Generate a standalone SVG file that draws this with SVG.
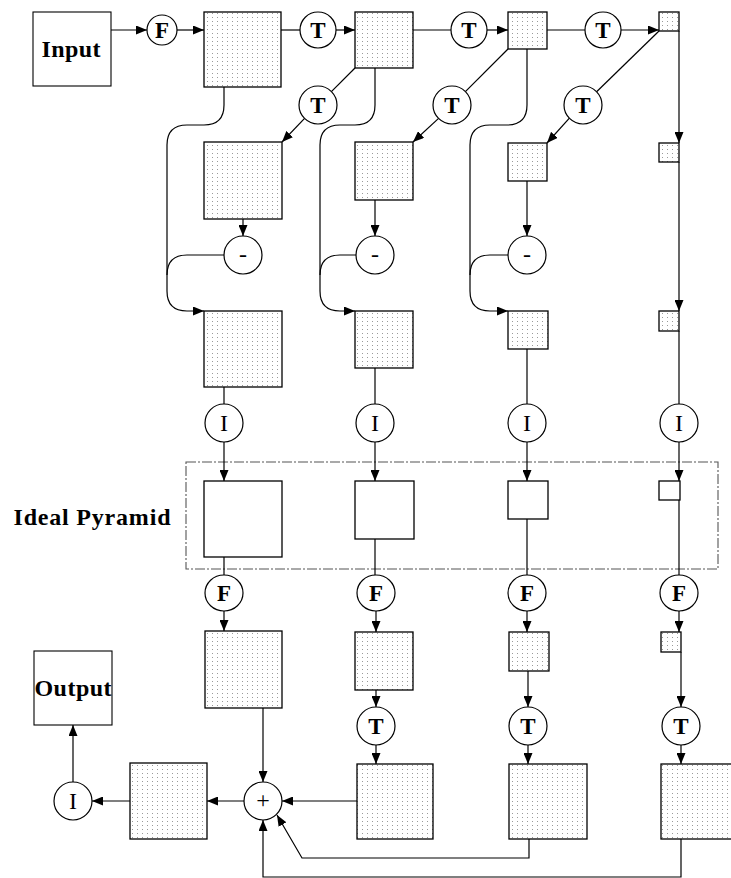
<svg xmlns="http://www.w3.org/2000/svg" width="731" height="878" viewBox="0 0 731 878">
<defs>
<pattern id="dots" width="5" height="4" patternUnits="userSpaceOnUse">
<rect width="5" height="4" fill="#fff"/>
<rect x="2" y="1" width="1" height="1" fill="#9a9a9a"/>
</pattern>
<marker id="arr" markerUnits="userSpaceOnUse" markerWidth="11" markerHeight="9" refX="11" refY="4.5" orient="auto">
<path d="M0,0 L11,4.5 L0,9 z" fill="#000"/>
</marker>
</defs>
<style>
.box{fill:url(#dots);stroke:#000;stroke-width:1.3}
.wbox{fill:#fff;stroke:#000;stroke-width:1.3}
.tbox{fill:#fff;stroke:#000;stroke-width:1.1}
.op{fill:#fff;stroke:#000;stroke-width:1.2}
.lt{font-family:"Liberation Serif",serif;font-size:23px;font-weight:bold;text-anchor:middle;dominant-baseline:central}
.li{font-family:"Liberation Serif",serif;font-size:24px;text-anchor:middle;dominant-baseline:central}
.big{font-family:"Liberation Serif",serif;font-size:24px;font-weight:bold;text-anchor:middle;dominant-baseline:central}
.c path{fill:none;stroke:#000;stroke-width:1.2}
.a{marker-end:url(#arr)}
.frame{fill:none;stroke:#555;stroke-width:1.1;stroke-dasharray:10 2 2 2}
</style>

<g id="ideal-frame">
<rect class="frame" x="186" y="462" width="532" height="107"/>
<text class="big" x="92" y="517" textLength="157" font-size="22">Ideal Pyramid</text>
</g>

<g class="c" id="connectors">
<path class="a" d="M111,30 H147"/>
<path class="a" d="M177,30 H204"/>
<path d="M281,30 H300"/>
<path class="a" d="M336,30 H355"/>
<path d="M413,30 H451"/>
<path class="a" d="M487,30 H508"/>
<path d="M547,30 H585"/>
<path class="a" d="M621,30 H659"/>
<path d="M355,68 L331.4,91.6"/>
<path class="a" d="M304.6,118.4 L282,142"/>
<path d="M508,49 L465.4,91.6"/>
<path class="a" d="M438.6,118.4 L413,142"/>
<path d="M659,31 L596.6,91.8"/>
<path class="a" d="M569.4,118.2 L547,143"/>
<path class="a" d="M679,31 V143"/>
<path class="a" d="M679,162 V311"/>
<path d="M679,331 V404"/>
<path class="a" d="M679,442 V481"/>
<path d="M679,500 V576"/>
<path class="a" d="M679,611 V632"/>
<path class="a" d="M681,652 V707"/>
<path class="a" d="M681,745 V764"/>
<path class="a" d="M681,839 V877 H263 V820"/>
<path class="a" d="M224,87 V105 Q224,125 204,125 H187 Q167,125 167,145 V291 Q167,311 187,311 H204"/>
<path d="M224,255 H187 Q167,255 167,275"/>
<path class="a" d="M243,219 V236"/>
<path d="M224,387 V404"/>
<path class="a" d="M224,442 V481"/>
<path d="M224,557 V575"/>
<path class="a" d="M224,611 V631"/>
<path class="a" d="M263,708 V782"/>
<path class="a" d="M375,68 V105 Q375,125 355,125 H340 Q320,125 320,145 V291 Q320,311 340,311 H355"/>
<path d="M356,255 H340 Q320,255 320,275"/>
<path class="a" d="M375,200 V236"/>
<path d="M375,368 V404"/>
<path class="a" d="M375,442 V481"/>
<path d="M375,539 V575"/>
<path class="a" d="M376,611 V632"/>
<path class="a" d="M376,690 V707"/>
<path class="a" d="M376,745 V764"/>
<path class="a" d="M357,801 H282"/>
<path class="a" d="M527,49 V105 Q527,125 507,125 H490 Q470,125 470,145 V291 Q470,311 490,311 H508"/>
<path d="M508,255 H490 Q470,255 470,275"/>
<path class="a" d="M527,181 V236"/>
<path d="M527,349 V404"/>
<path class="a" d="M527,442 V481"/>
<path d="M527,519 V575"/>
<path class="a" d="M527,611 V632"/>
<path class="a" d="M528,671 V707"/>
<path class="a" d="M528,745 V764"/>
<path class="a" d="M529,839 V858 H302 L277,815"/>
<path class="a" d="M244,801 H207"/>
<path class="a" d="M130,801 H92"/>
<path class="a" d="M73,782 V725"/>
</g>

<g id="input"><rect class="tbox" x="33" y="12" width="78" height="74"/><text class="big" x="71" y="49" textLength="59">Input</text></g>
<g id="f-top"><circle class="op" cx="162" cy="30" r="15"/><text class="lt" x="162" y="30" font-size="21">F</text></g>
<g id="top-l0"><rect class="box" x="204" y="12" width="77" height="75"/></g>
<g id="t-top1"><circle class="op" cx="318" cy="30" r="18"/><text class="lt" x="318" y="30">T</text></g>
<g id="top-l1"><rect class="box" x="355" y="12" width="58" height="56"/></g>
<g id="t-top2"><circle class="op" cx="469" cy="30" r="18"/><text class="lt" x="469" y="30">T</text></g>
<g id="top-l2"><rect class="box" x="508" y="12" width="39" height="37"/></g>
<g id="t-top3"><circle class="op" cx="603" cy="30" r="18"/><text class="lt" x="603" y="30">T</text></g>
<g id="top-l3"><rect class="box" x="659" y="12" width="20" height="19"/></g>

<g id="t-diag1"><circle class="op" cx="318" cy="105" r="19"/><text class="lt" x="318" y="105">T</text></g>
<g id="t-diag2"><circle class="op" cx="452" cy="105" r="19"/><text class="lt" x="452" y="105">T</text></g>
<g id="t-diag3"><circle class="op" cx="583" cy="105" r="19"/><text class="lt" x="583" y="105">T</text></g>

<g id="exp-l0"><rect class="box" x="204" y="142" width="78" height="77"/></g>
<g id="exp-l1"><rect class="box" x="355" y="142" width="58" height="58"/></g>
<g id="exp-l2"><rect class="box" x="508" y="143" width="39" height="38"/></g>
<g id="exp-l3"><rect class="box" x="659" y="143" width="20" height="19"/></g>

<g id="minus1"><circle class="op" cx="243" cy="255" r="19"/><text class="li" x="243" y="254" font-size="20">-</text></g>
<g id="minus2"><circle class="op" cx="375" cy="255" r="19"/><text class="li" x="375" y="254" font-size="20">-</text></g>
<g id="minus3"><circle class="op" cx="527" cy="255" r="19"/><text class="li" x="527" y="254" font-size="20">-</text></g>

<g id="diff-l0"><rect class="box" x="204" y="311" width="78" height="76"/></g>
<g id="diff-l1"><rect class="box" x="355" y="311" width="58" height="57"/></g>
<g id="diff-l2"><rect class="box" x="508" y="311" width="40" height="38"/></g>
<g id="diff-l3"><rect class="box" x="659" y="311" width="20" height="20"/></g>

<g id="i1"><circle class="op" cx="224" cy="423" r="19"/><text class="li" x="224" y="423">I</text></g>
<g id="i2"><circle class="op" cx="375" cy="423" r="19"/><text class="li" x="375" y="423">I</text></g>
<g id="i3"><circle class="op" cx="527" cy="423" r="19"/><text class="li" x="527" y="423">I</text></g>
<g id="i4"><circle class="op" cx="679" cy="423" r="19"/><text class="li" x="679" y="423">I</text></g>

<g id="ideal-l0"><rect class="wbox" x="204" y="481" width="78" height="76"/></g>
<g id="ideal-l1"><rect class="wbox" x="355" y="481" width="59" height="58"/></g>
<g id="ideal-l2"><rect class="wbox" x="508" y="481" width="40" height="38"/></g>
<g id="ideal-l3"><rect class="wbox" x="659" y="481" width="21" height="19"/></g>

<g id="f1"><ellipse class="op" cx="224" cy="593" rx="19" ry="18"/><text class="lt" x="224" y="593">F</text></g>
<g id="f2"><ellipse class="op" cx="376" cy="593" rx="19" ry="18"/><text class="lt" x="376" y="593">F</text></g>
<g id="f3"><ellipse class="op" cx="527" cy="593" rx="19" ry="18"/><text class="lt" x="527" y="593">F</text></g>
<g id="f4"><ellipse class="op" cx="679" cy="593" rx="19" ry="18"/><text class="lt" x="679" y="593">F</text></g>

<g id="rec-l0"><rect class="box" x="205" y="631" width="77" height="77"/></g>
<g id="rec-l1"><rect class="box" x="355" y="632" width="58" height="58"/></g>
<g id="rec-l2"><rect class="box" x="509" y="632" width="40" height="39"/></g>
<g id="rec-l3"><rect class="box" x="661" y="632" width="20" height="20"/></g>

<g id="t-bot2"><circle class="op" cx="376" cy="726" r="19"/><text class="lt" x="376" y="726">T</text></g>
<g id="t-bot3"><circle class="op" cx="528" cy="726" r="19"/><text class="lt" x="528" y="726">T</text></g>
<g id="t-bot4"><circle class="op" cx="681" cy="726" r="19"/><text class="lt" x="681" y="726">T</text></g>

<g id="up-l1"><rect class="box" x="357" y="764" width="76" height="75"/></g>
<g id="up-l2"><rect class="box" x="509" y="764" width="78" height="75"/></g>
<g id="up-l3"><rect class="box" x="661" y="764" width="77" height="75"/></g>

<g id="plus"><circle class="op" cx="263" cy="801" r="19"/><text class="li" x="263" y="800" font-size="15">+</text></g>
<g id="result"><rect class="box" x="130" y="763" width="77" height="76"/></g>
<g id="i-out"><circle class="op" cx="73" cy="801" r="19"/><text class="li" x="73" y="801">I</text></g>
<g id="output"><rect class="tbox" x="34" y="651" width="78" height="74"/><text class="big" x="73" y="688" textLength="77">Output</text></g>
</svg>
